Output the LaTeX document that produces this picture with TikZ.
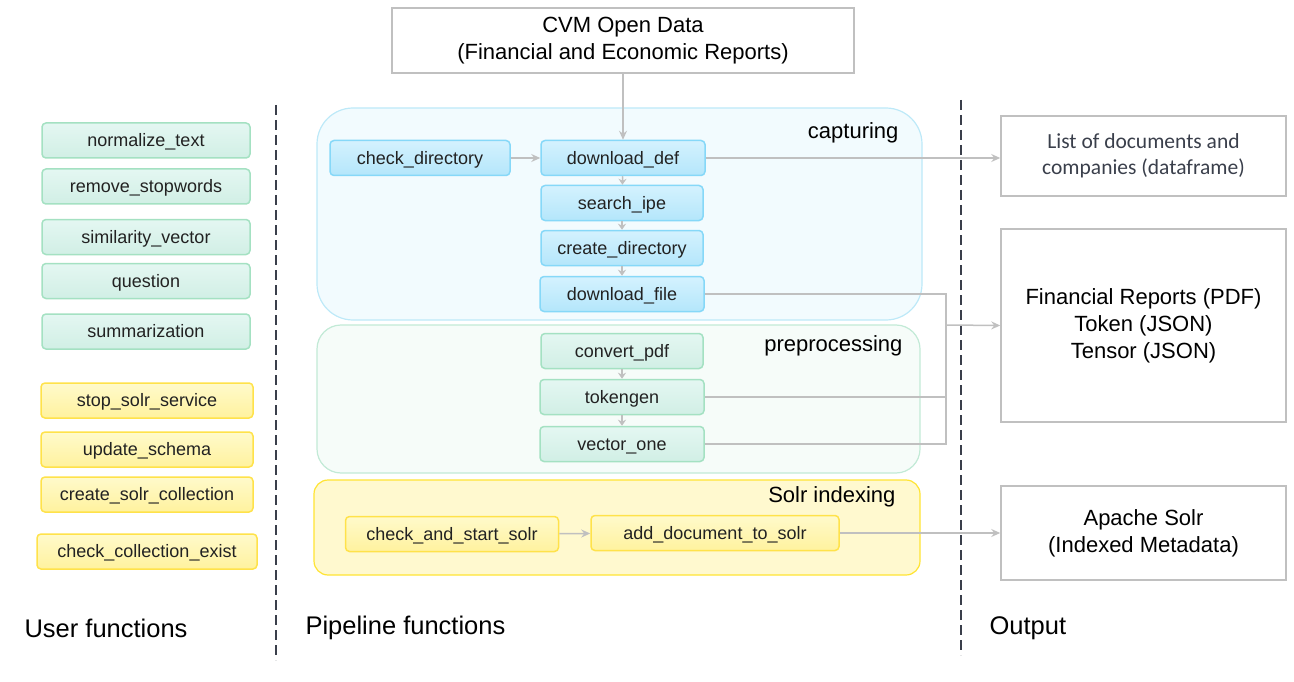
\documentclass[tikz,border=0pt]{standalone}
\usepackage{fontspec}
\setmainfont{Liberation Sans}
\newfontfamily\calibri{Carlito}
\usetikzlibrary{arrows.meta}

\definecolor{bluetop}{HTML}{D4F2FE}
\definecolor{bluebot}{HTML}{B4E6FB}
\definecolor{blueline}{HTML}{86D8F8}
\definecolor{greentop}{HTML}{E4F7F2}
\definecolor{greenbot}{HTML}{D1EFE5}
\definecolor{greenline}{HTML}{A4E1C2}
\definecolor{yellowtop}{HTML}{FFFACB}
\definecolor{yellowbot}{HTML}{FFF29E}
\definecolor{yellowline}{HTML}{FFE24A}
\definecolor{capfill}{HTML}{F2FBFE}
\definecolor{capline}{HTML}{BDE9F8}
\definecolor{prefill}{HTML}{F6FCF9}
\definecolor{preline}{HTML}{C2EAD6}
\definecolor{solrfill}{HTML}{FFF9CF}
\definecolor{solrline}{HTML}{FFE433}
\definecolor{outline}{HTML}{C0C0C0}
\definecolor{linkgray}{HTML}{C0C0C0}
\definecolor{sepline}{HTML}{3A3F4B}
\definecolor{fntext}{HTML}{222222}

\begin{document}
\begin{tikzpicture}[x=1pt, y=-1pt,
    fn/.style={rounded corners=4pt, line width=1.5pt, minimum height=35pt,
      inner sep=0pt, text height=13pt, text depth=0.5pt, text=fntext,
      font=\fontsize{18}{21}\selectfont},
    bluefn/.style={fn, draw=blueline, top color=bluetop, bottom color=bluebot},
    greenfn/.style={fn, draw=greenline, top color=greentop, bottom color=greenbot},
    yellowfn/.style={fn, draw=yellowline, top color=yellowtop, bottom color=yellowbot},
    group/.style={line width=1.2pt, inner sep=0pt},
    grouplabel/.style={anchor=east, font=\fontsize{22}{26}\selectfont},
    outbox/.style={draw=outline, line width=1.5pt, inner sep=0pt, align=center,
      minimum width=285pt, font=\fontsize{22}{27}\selectfont},
    colname/.style={anchor=west, font=\fontsize{25.5}{30}\selectfont},
    link/.style={draw=linkgray, line width=1.5pt},
    arr/.style={link, -{Stealth[length=9pt, width=8pt, inset=3pt]}},
    sarr/.style={link, -{Stealth[length=6pt, width=8pt, inset=2pt]}},
    sep/.style={draw=sepline, line width=1.8pt, dash pattern=on 10pt off 5pt}]
    \useasboundingbox (0,0) rectangle (1294,682);

    % separators
    \coordinate (sepAtop) at (276,105);
    \coordinate (sepAbot) at (276,660);
    \coordinate (sepBtop) at (961,100);
    \coordinate (sepBbot) at (961,655);
    \draw[sep] (sepAtop) -- (sepAbot);
    \draw[sep] (sepBtop) -- (sepBbot);

    % pipeline groups
    \node[group, draw=capline, fill=capfill, rounded corners=36pt,
      minimum width=605pt, minimum height=212pt] (capture) at (619.5,214) {};
    \node[group, draw=preline, fill=prefill, rounded corners=24pt,
      minimum width=603pt, minimum height=148pt] (prepro) at (618.5,399) {};
    \node[group, draw=solrline, fill=solrfill, rounded corners=14pt,
      minimum width=606pt, minimum height=95pt] (solridx) at (617,527.5) {};
    \node[grouplabel] (caplabel) at (902,133) {capturing};
    \node[grouplabel] (prelabel) at (906,346) {preprocessing};
    \node[grouplabel] (solrlabel) at (899,497) {Solr indexing};

    % source
    \node[outbox, minimum width=462pt, minimum height=65pt] (cvm) at (623,40.5)
      {CVM Open Data\\(Financial and Economic Reports)};

    % capturing
    \node[bluefn, minimum width=180pt] (check_directory) at (420,158) {check\_directory};
    \node[bluefn, minimum width=164pt] (download_def) at (623,158) {download\_def};
    \node[bluefn, minimum width=162pt] (search_ipe) at (622,203) {search\_ipe};
    \node[bluefn, minimum width=162pt] (create_directory) at (622,248) {create\_directory};
    \node[bluefn, minimum width=164pt] (download_file) at (622,294) {download\_file};

    % preprocessing
    \node[greenfn, minimum width=162pt] (convert_pdf) at (622,351) {convert\_pdf};
    \node[greenfn, minimum width=164pt] (tokengen) at (622,397) {tokengen};
    \node[greenfn, minimum width=164pt] (vector_one) at (622,444) {vector\_one};

    % solr indexing
    \node[yellowfn, minimum width=213pt] (check_and_start_solr) at (452,534) {check\_and\_start\_solr};
    \node[yellowfn, minimum width=248pt] (add_document_to_solr) at (715,533) {add\_document\_to\_solr};

    % user functions
    \node[greenfn, minimum width=208pt] (normalize_text) at (146,140.5) {normalize\_text};
    \node[greenfn, minimum width=208pt] (remove_stopwords) at (146,186.5) {remove\_stopwords};
    \node[greenfn, minimum width=208pt] (similarity_vector) at (146,237) {similarity\_vector};
    \node[greenfn, minimum width=208pt] (question) at (146,281) {question};
    \node[greenfn, minimum width=208pt] (summarization) at (146,331.5) {summarization};
    \node[yellowfn, minimum width=212pt] (stop_solr_service) at (147,400.5) {stop\_solr\_service};
    \node[yellowfn, minimum width=212pt] (update_schema) at (147,449.5) {update\_schema};
    \node[yellowfn, minimum width=212pt] (create_solr_collection) at (147,494.5) {create\_solr\_collection};
    \node[yellowfn, minimum width=220pt] (check_collection_exist) at (147,551.5) {check\_collection\_exist};

    % outputs
    \node[outbox, minimum height=80pt, text=sepline, font=\calibri\fontsize{21.5}{26}\selectfont]
      (doclist) at (1143.5,156) {List of documents and\\companies (dataframe)};
    \node[outbox, minimum height=193pt] (reports) at (1143.5,325.5)
      {Financial Reports (PDF)\\Token (JSON)\\Tensor (JSON)};
    \node[outbox, minimum height=94pt] (apache) at (1143.5,533)
      {Apache Solr\\(Indexed Metadata)};

    % column names
    \node[colname] (userfn) at (21,628) {User functions};
    \node[colname] (pipefn) at (302,628) {Pipeline functions};
    \node[colname] (outname) at (986,628) {Output};

    % connectors
    \draw[arr] (cvm) -- (download_def);
    \draw[arr] (check_directory) -- (download_def);
    \draw[sarr] (download_def) -- (search_ipe);
    \draw[sarr] (search_ipe) -- (create_directory);
    \draw[sarr] (create_directory) -- (download_file);
    \draw[sarr] (convert_pdf) -- (tokengen);
    \draw[sarr] (tokengen) -- (vector_one);
    \draw[arr] (download_def.east) -- (download_def.east -| doclist.west);
    \coordinate (merge) at (946,325);
    \draw[link] (download_file.east) -| (merge);
    \draw[link] (tokengen.east) -| (merge);
    \draw[link] (vector_one.east) -| (merge);
    \draw[arr] (merge) -- (reports.west);
    \draw[arr] (check_and_start_solr) -- (add_document_to_solr);
    \draw[arr] (add_document_to_solr.east) -- (add_document_to_solr.east -| apache.west);
\end{tikzpicture}
\end{document}
